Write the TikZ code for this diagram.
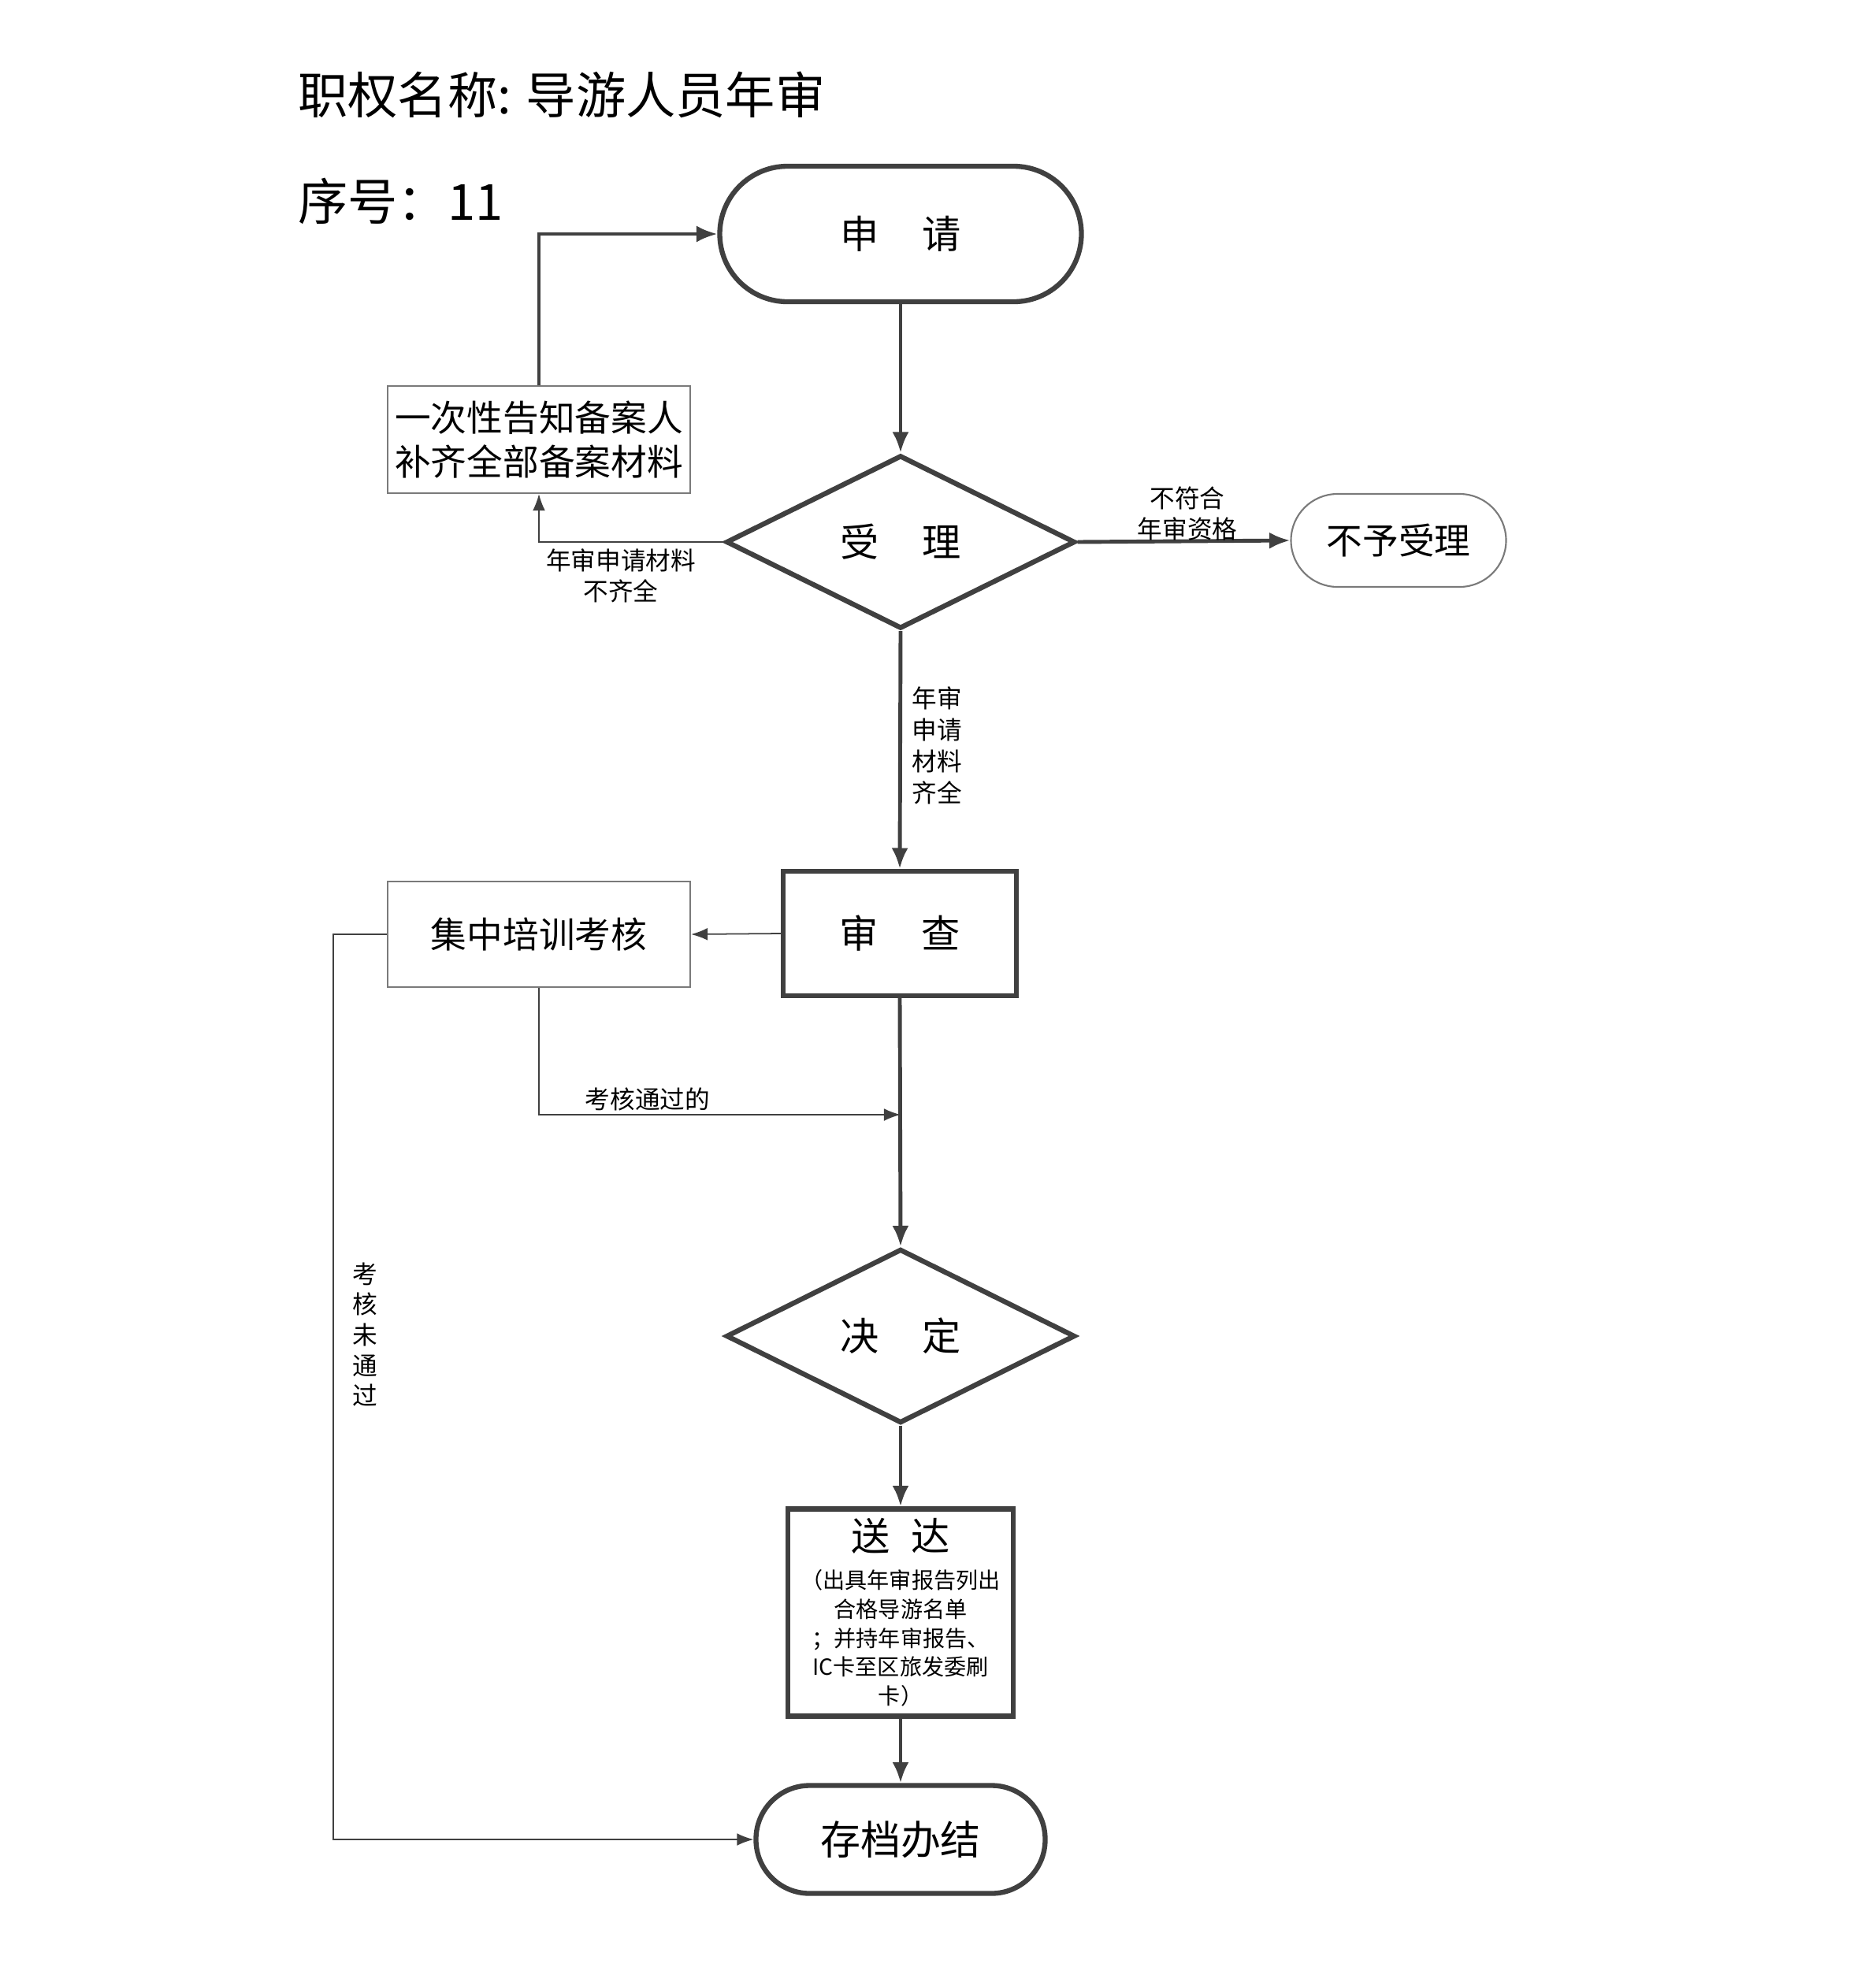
\documentclass[tikz,border=0pt]{standalone}
\usepackage{fontspec}
\setmainfont{Noto Sans CJK SC}
\usetikzlibrary{shapes.geometric,arrows.meta}
\definecolor{linea}{HTML}{404040}
\definecolor{borde}{HTML}{7A7A7A}
\newcommand{\tam}[1]{\fontsize{#1}{#1}\selectfont}
\tikzset{
  inicio/.style={draw=linea, line width=1.8pt, rounded corners=#1, inner sep=0pt},
  fin/.style={draw=borde, line width=0.6pt, rounded corners=#1, inner sep=0pt},
  rombo/.style={draw=linea, line width=1.8pt, diamond, inner sep=0pt},
  caja/.style={draw=linea, line width=1.8pt, inner sep=0pt},
  nota/.style={draw=borde, line width=0.6pt, inner sep=0pt},
  etiqueta/.style={align=center, font=\fontsize{9pt}{11pt}\selectfont},
  grueso/.style={draw=linea, line width=1.4pt, -{Latex[length=7.5pt,width=6pt]}},
  fino/.style={draw=linea, line width=0.5pt, -{Latex[length=6pt,width=4.5pt]}}
}
\begin{document}
\begin{tikzpicture}
        \fill[white] (0,0) rectangle (23.81,-25.02);
        \useasboundingbox (0,0) rectangle (23.81,-25.02);
        % titulo
        \node[anchor=west, font=\tam{18pt}] (titulo) at (3.66,-1.20) {职权名称: 导游人员年审};
        \node[anchor=west, font=\tam{18pt}] (numero) at (3.66,-2.55) {序号：11};
        % columna central
        \node[inicio=0.86cm, minimum width=4.59cm, minimum height=1.72cm, font=\tam{14pt}] (shen) at (11.43,-2.97) {申\hspace{1.1em}请};
        \node[rombo, minimum width=4.43cm, minimum height=2.20cm, font=\tam{14pt}] (shouli) at (11.43,-6.88) {受\hspace{1.1em}理};
        \node[caja, minimum width=2.96cm, minimum height=1.58cm, font=\tam{14pt}] (shencha) at (11.42,-11.85) {审\hspace{1.1em}查};
        \node[rombo, minimum width=4.43cm, minimum height=2.21cm, font=\tam{14pt}] (jueding) at (11.43,-16.96) {决\hspace{1.1em}定};
        \node[caja, minimum width=2.86cm, minimum height=2.63cm, align=center, font=\fontsize{8pt}{10.5pt}\selectfont] (songda) at (11.43,-20.47)
          {{\tam{14pt}送\hspace{0.55em}达}\\[3pt]
           （出具年审报告列出\\合格导游名单\\；并持年审报告、\\IC卡至区旅发委刷\\卡）};
        \node[inicio=0.68cm, minimum width=3.67cm, minimum height=1.37cm, font=\tam{14.5pt}] (cundang) at (11.43,-23.35) {存档办结};
        % cajas laterales
        \node[nota, minimum width=3.84cm, minimum height=1.36cm, align=center, font=\fontsize{13pt}{16pt}\selectfont] (gaozhi) at (6.84,-5.58) {一次性告知备案人\\补齐全部备案材料};
        \node[fin=0.59cm, minimum width=2.73cm, minimum height=1.18cm, font=\tam{13pt}] (buyu) at (17.75,-6.86) {不予受理};
        \node[nota, minimum width=3.84cm, minimum height=1.34cm, font=\tam{13pt}] (peixun) at (6.84,-11.86) {集中培训考核};
        % puntos de paso
        \coordinate (pasa) at (11.43,-14.15);
        \coordinate (nopasa) at (4.23,-11.86);
        % flechas
        \draw[grueso] (shen) -- (shouli);
        \draw[fino] (shouli.west) -| (gaozhi.south);
        \draw[grueso, line width=1.1pt] (gaozhi.north) |- (shen.west);
        \draw[grueso] (shouli.east) -- (buyu.west);
        \draw[grueso] (shouli.south) -- (shencha.north);
        \draw[fino] (shencha.west) -- (peixun.east);
        \draw[fino] (peixun.south) |- (pasa);
        \draw[grueso] (shencha.south) -- (jueding.north);
        \draw[grueso] (jueding.south) -- (songda.north);
        \draw[grueso] (songda.south) -- (cundang.north);
        \draw[fino] (peixun.west) -- (nopasa) |- (cundang.west);
        % textos de las flechas
        \node[etiqueta] (falta) at (7.88,-7.31) {年审申请材料\\不齐全};
        \node[etiqueta] (nocumple) at (15.07,-6.52) {不符合\\年审资格};
        \node[etiqueta, font=\fontsize{9pt}{11.4pt}\selectfont] (completo) at (11.89,-9.46) {年审\\申请\\材料\\齐全};
        \node[etiqueta] (aprobado) at (8.22,-13.95) {考核通过的};
        \node[etiqueta] (suspenso) at (4.63,-16.94) {考\\核\\未\\通\\过};
\end{tikzpicture}
\end{document}
